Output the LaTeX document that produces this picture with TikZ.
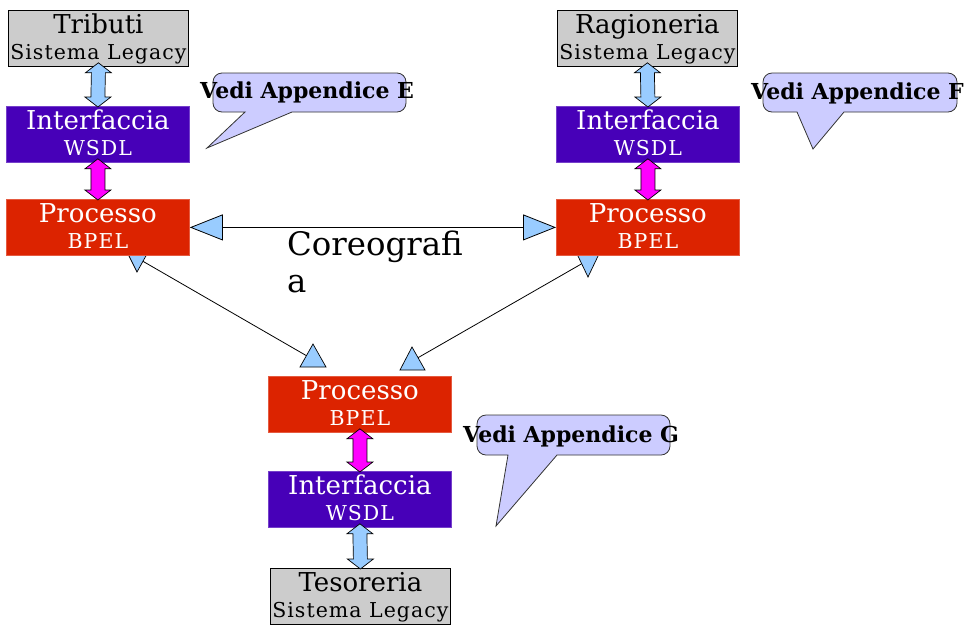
\documentclass[tikz,border=0pt]{standalone}
\usepackage{fontspec}
\setmainfont{DejaVu Serif}
\newfontfamily\spacedserif[LetterSpace=5]{DejaVu Serif}
\usetikzlibrary{calc,arrows.meta}

\definecolor{legacygray}{HTML}{CCCCCC}
\definecolor{wsdlpurple}{HTML}{4700B8}
\definecolor{bpelred}{HTML}{DC2300}
\definecolor{paleblue}{HTML}{99CCFF}
\definecolor{linkmagenta}{HTML}{FF00FF}
\definecolor{calloutblue}{HTML}{CCCCFF}

\tikzset{
  box/.style={minimum width=183pt,minimum height=56pt,inner sep=0pt,anchor=north west,line width=0.8pt},
  legacy/.style={box,fill=legacygray,draw=black,minimum width=180pt},
  wsdl/.style={box,fill=wsdlpurple,draw=wsdlpurple!75!white},
  bpel/.style={box,fill=bpelred,draw=bpelred!75!white},
  titletext/.style={anchor=base,inner sep=0pt,font=\fontsize{26}{26}\selectfont},
  subtext/.style={anchor=base,inner sep=0pt,font=\spacedserif\fontsize{20.5}{20.5}\selectfont},
  calloutshape/.style={fill=calloutblue,draw=black!80,line width=0.8pt},
  callouttext/.style={anchor=base west,inner sep=0pt,font=\fontsize{22}{22}\selectfont\bfseries},
  headtri/.style={fill=paleblue,draw=black,line width=0.7pt,line join=miter},
  link/.style={draw=black,line width=0.8pt},
  hlink/.style={link,{Triangle[length=33pt,width=26pt,fill=paleblue]}-{Triangle[length=33pt,width=26pt,fill=paleblue]}},
}

% a box with a two-line caption: style, name, x, y, text colour, title, subtitle
\newcommand\tierbox[7]{%
  \node[#1] (#2) at (#3,#4) {};
  \node[titletext,text=#5] (#2-t) at ($(#2.north)+(0,23.5)$) {#6};
  \node[subtext,text=#5] (#2-s) at ($(#2.north)+(0,49.5)$) {#7};
}

% vertical double block arrow between two stacked boxes: fill, upper node, lower node
\newcommand\blockarrow[3]{%
  \coordinate (#2-#3-a) at ($(#2.south)+(0,-4)$);
  \coordinate (#2-#3-b) at ($(#3.north)+(0,1)$);
  \filldraw[fill=#1,draw=black,line width=0.7pt]
    (#2-#3-a) -- ($(#2-#3-a)+(13,10)$) -- ($(#2-#3-a)+(7,10)$)
    -- ($(#2-#3-b)+(7,-10)$) -- ($(#2-#3-b)+(13,-10)$) -- (#2-#3-b)
    -- ($(#2-#3-b)+(-13,-10)$) -- ($(#2-#3-b)+(-7,-10)$)
    -- ($(#2-#3-a)+(-7,10)$) -- ($(#2-#3-a)+(-13,10)$) -- cycle;
}

\begin{document}
\begin{tikzpicture}[x=1pt,y=-1pt]
\useasboundingbox (0,0) rectangle (969,625);

% diagonal links of the choreography
\coordinate (dl-a) at (139,259);
\coordinate (dl-b) at (307,356);
\coordinate (dr-a) at (590,259);
\coordinate (dr-b) at (414,360);
\draw[link] (dl-a) -- (dl-b);
\draw[link] (dr-a) -- (dr-b);
\filldraw[headtri] (128,254) -- (147,254) -- (137,272) -- cycle;
\filldraw[headtri] (300,367) -- (326,367) -- (313,344) -- cycle;
\filldraw[headtri] (577,254) -- (599,254) -- (588,277) -- cycle;
\filldraw[headtri] (400,370) -- (425,370) -- (412,347) -- cycle;

% left column
\tierbox{legacy}{trib}{8}{10}{black}{Tributi}{Sistema Legacy}
\tierbox{wsdl}{wsdlA}{6}{106}{white}{Interfaccia}{WSDL}
\tierbox{bpel}{bpelA}{6}{199}{white}{Processo}{BPEL}

% right column
\tierbox{legacy}{rag}{557}{10}{black}{Ragioneria}{Sistema Legacy}
\tierbox{wsdl}{wsdlB}{556}{106}{white}{Interfaccia}{WSDL}
\tierbox{bpel}{bpelB}{556}{199}{white}{Processo}{BPEL}

% bottom column
\tierbox{bpel}{bpelC}{268}{376}{white}{Processo}{BPEL}
\tierbox{wsdl}{wsdlC}{268}{471}{white}{Interfaccia}{WSDL}
\tierbox{legacy}{tes}{270}{568}{black}{Tesoreria}{Sistema Legacy}

% block arrows
\blockarrow{paleblue}{trib}{wsdlA}
\blockarrow{linkmagenta}{wsdlA}{bpelA}
\blockarrow{paleblue}{rag}{wsdlB}
\blockarrow{linkmagenta}{wsdlB}{bpelB}
\blockarrow{linkmagenta}{bpelC}{wsdlC}
\blockarrow{paleblue}{wsdlC}{tes}

% link between the two upper processes
\draw[hlink] (bpelA.east) -- (bpelB.west);

% choreography label
\node[anchor=base west,inner sep=0pt,align=left,font=\fontsize{32.4}{36.5}\selectfont] (coreo) at (287,292) {Coreografi\\a};

% callouts
\filldraw[calloutshape] (245,112) [rounded corners=9pt] -- (213,112) -- (213,73) -- (406,73) -- (406,112) [sharp corners] -- (292,112) -- (207,148) -- cycle;
\node[callouttext] (noteE) at (200,98) {Vedi Appendice E};

\filldraw[calloutshape] (797,112) [rounded corners=9pt] -- (763,112) -- (763,73) -- (957,73) -- (957,112) [sharp corners] -- (844,112) -- (813,149) -- cycle;
\node[callouttext] (noteF) at (751,99) {Vedi Appendice F};

\filldraw[calloutshape] (508,455) [rounded corners=9pt] -- (477,455) -- (477,415) -- (670,415) -- (670,455) [sharp corners] -- (557,455) -- (496,526) -- cycle;
\node[callouttext] (noteG) at (463,442) {Vedi Appendice G};
\end{tikzpicture}
\end{document}
